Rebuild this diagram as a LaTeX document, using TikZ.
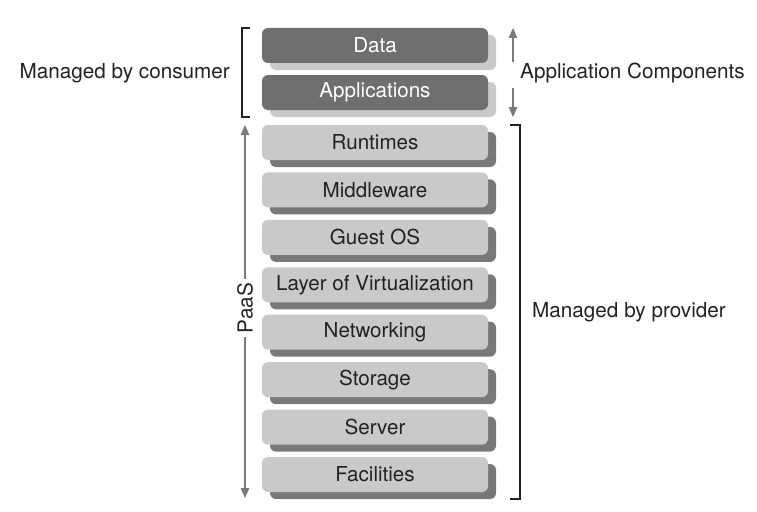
\documentclass[tikz,border=0pt]{standalone}
\usepackage{fontspec}
\setmainfont{TeX Gyre Heros}
\usetikzlibrary{shadows,arrows.meta}
\definecolor{darkbox}{HTML}{6F6F6F}
\definecolor{lightbox}{HTML}{C9C9C9}
\definecolor{shadedark}{HTML}{787878}
\definecolor{txt}{HTML}{222222}
\definecolor{arrowgray}{HTML}{7A7A7A}
\begin{document}
\begin{tikzpicture}[x=1pt,y=-1pt,
  layerbox/.style={rectangle, rounded corners=6pt, minimum width=226pt, minimum height=35pt,
    inner sep=0pt, font=\fontsize{20.6}{23}\selectfont},
  consumerbox/.style={layerbox, fill=darkbox, text=white,
    general shadow={fill=lightbox, shadow xshift=8pt, shadow yshift=-7pt}},
  providerbox/.style={layerbox, fill=lightbox, text=txt,
    general shadow={fill=shadedark, shadow xshift=8pt, shadow yshift=-7pt}},
  bracketline/.style={line width=1.4pt, draw=txt},
  grayarrow/.style={draw=arrowgray, line width=1.1pt, -{Triangle[width=8.5pt,length=10pt]}},
  lbl/.style={font=\fontsize{20.7}{23}\selectfont, text=txt, inner sep=0pt}]
\useasboundingbox (0,0) rectangle (757,511);
\node[consumerbox] (data) at (375,45.5) {Data};
\node[consumerbox] (apps) at (375,92.5) {Applications};
\node[providerbox] (run) at (375,142.5) {Runtimes};
\node[providerbox] (mid) at (375,189.9) {Middleware};
\node[providerbox] (os) at (375,237.4) {Guest OS};
\node[providerbox] (virt) at (375,284.8) {Layer of Virtualization};
\node[providerbox] (net) at (375,332.2) {Networking};
\node[providerbox] (stor) at (375,379.7) {Storage};
\node[providerbox] (serv) at (375,427.1) {Server};
\node[providerbox] (fac) at (375,474.5) {Facilities};
% consumer bracket
\coordinate (cb1) at (250,28);
\coordinate (cb2) at (242,28);
\coordinate (cb3) at (242,117);
\coordinate (cb4) at (250,117);
\draw[bracketline] (cb1) -- (cb2) -- (cb3) -- (cb4);
% provider bracket
\coordinate (pb1) at (510,125);
\coordinate (pb2) at (520,125);
\coordinate (pb3) at (520,499);
\coordinate (pb4) at (510,499);
\draw[bracketline] (pb1) -- (pb2) -- (pb3) -- (pb4);
% application components arrows
\coordinate (au1) at (513,62);
\coordinate (au2) at (513,28);
\coordinate (ad1) at (513,88);
\coordinate (ad2) at (513,117);
\draw[grayarrow] (au1) -- (au2);
\draw[grayarrow] (ad1) -- (ad2);
% PaaS arrow
\coordinate (pa1) at (245,125);
\coordinate (pa2) at (245,498);
\node[lbl, fill=white, rotate=90, inner xsep=4pt, inner ysep=1pt] (paas) at (245,308) {PaaS};
\draw[grayarrow] (paas.east) -- (pa1);
\draw[grayarrow] (paas.west) -- (pa2);
% labels
\node[lbl, anchor=east] (mc) at (230,73) {Managed by consumer};
\node[lbl, anchor=west] (ac) at (520,73) {Application Components};
\node[lbl, anchor=west] (mp) at (532,312) {Managed by provider};
\end{tikzpicture}
\end{document}
